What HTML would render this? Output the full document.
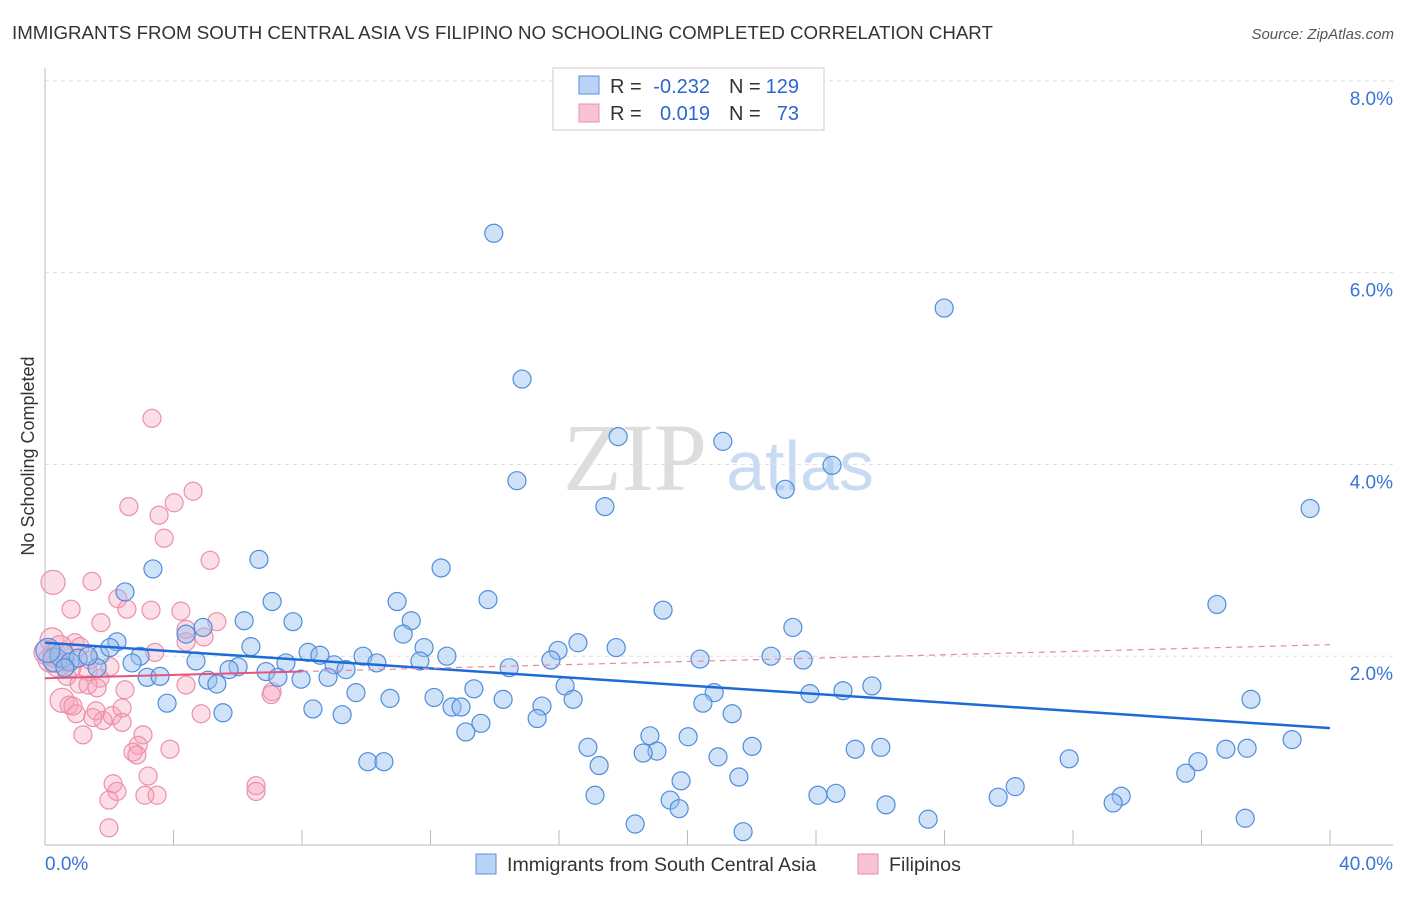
<!DOCTYPE html>
<html><head><meta charset="utf-8"><style>
body{margin:0;background:#fff;font-family:"Liberation Sans",sans-serif;}
svg text{font-family:"Liberation Sans",sans-serif;}
</style></head><body>
<svg id="chart" width="1406" height="892" xmlns="http://www.w3.org/2000/svg">
<text x="12" y="39" font-size="18.7" fill="#333">IMMIGRANTS FROM SOUTH CENTRAL ASIA VS FILIPINO NO SCHOOLING COMPLETED CORRELATION CHART</text>
<text x="1394" y="39" font-size="15" fill="#555" text-anchor="end" font-style="italic">Source: ZipAtlas.com</text>
<text x="34" y="456" font-size="18" fill="#333" text-anchor="middle" transform="rotate(-90 34 456)">No Schooling Completed</text>
<g>
<text x="635" y="490" font-size="96" fill="#ddd" text-anchor="middle" font-family="Liberation Serif" style="font-family:'Liberation Serif',serif">ZIP</text>
<text x="800" y="490" font-size="70" fill="#c9dbf3" text-anchor="middle">atlas</text>
</g>
<g id="grid"></g><g id="axes"></g><g id="pink"></g><g id="blue"></g><g id="trends"></g>
<g>
<rect x="553" y="68" width="271" height="62" fill="#fff" stroke="#ccc"/>
<rect x="579" y="76" width="20" height="18" fill="#b9d3f7" stroke="#5b8fd9"/>
<rect x="579" y="104" width="20" height="18" fill="#f9c3d3" stroke="#e890ac"/>
<text x="610" y="93" font-size="20" fill="#333">R =</text>
<text x="710" y="93" font-size="20" fill="#2a66d4" text-anchor="end">-0.232</text>
<text x="729" y="93" font-size="20" fill="#333">N =</text>
<text x="799" y="93" font-size="20" fill="#2a66d4" text-anchor="end">129</text>
<text x="610" y="120" font-size="20" fill="#333">R =</text>
<text x="710" y="120" font-size="20" fill="#2a66d4" text-anchor="end">0.019</text>
<text x="729" y="120" font-size="20" fill="#333">N =</text>
<text x="799" y="120" font-size="20" fill="#2a66d4" text-anchor="end">73</text>
</g>
<g>
<rect x="476" y="854" width="20" height="20" fill="#b9d3f7" stroke="#5b8fd9"/>
<text x="507" y="871" font-size="19.6" fill="#333">Immigrants from South Central Asia</text>
<rect x="858" y="854" width="20" height="20" fill="#f9c3d3" stroke="#e890ac"/>
<text x="889" y="871" font-size="19.6" fill="#333">Filipinos</text>
</g>
</svg>
<script>
const blueX=[13.97,27.99,14.85,17.84,21.1,24.5,14.69,23.04,17.43,39.38,3.36,6.66,12.33,2.49,7.07,10.96,13.79,19.24,36.48,6.2,7.72,11.4,23.28,4.92,4.39,11.15,2.24,16.59,6.41,11.8,17.78,15.97,8.19,8.56,12.51,9.9,2.96,1.71,22.6,4.7,2.71,20.39,15.75,23.6,10.33,11.67,7.5,9.0,6.01,5.73,1.62,14.45,6.88,9.37,3.18,7.25,7.97,8.81,3.58,5.07,5.35,25.74,16.19,13.35,20.83,9.68,24.84,23.81,37.54,10.74,12.11,14.26,16.44,20.48,3.8,12.67,12.95,8.34,15.47,5.54,9.25,21.39,15.32,13.57,13.1,18.83,20.02,38.82,16.9,22.01,26.02,25.22,37.42,36.76,19.05,18.62,20.95,31.88,10.05,10.55,17.25,35.89,35.51,21.6,19.8,30.2,17.12,24.06,24.62,29.67,33.5,19.46,33.25,26.18,19.74,27.49,37.36,18.37,21.73,0.31,0.53,0.78,0.09,1.03,1.34,0.62,2.02];
const blueY=[6.41,5.63,4.89,4.29,4.24,3.99,3.83,3.74,3.56,3.54,2.91,3.01,2.92,2.67,2.57,2.57,2.59,2.48,2.54,2.37,2.36,2.37,2.3,2.3,2.23,2.23,2.15,2.14,2.1,2.09,2.09,2.06,2.04,2.01,2.0,2.0,2.0,2.01,2.0,1.95,1.93,1.97,1.96,1.96,1.93,1.95,1.93,1.91,1.89,1.86,1.88,1.88,1.84,1.86,1.78,1.78,1.76,1.78,1.79,1.75,1.71,1.69,1.69,1.66,1.62,1.62,1.64,1.61,1.55,1.56,1.57,1.55,1.55,1.51,1.51,1.47,1.47,1.45,1.48,1.41,1.39,1.4,1.35,1.3,1.21,1.17,1.16,1.13,1.05,1.06,1.05,1.03,1.04,1.03,1.01,0.99,0.95,0.93,0.9,0.9,0.86,0.9,0.78,0.74,0.7,0.64,0.55,0.55,0.57,0.53,0.54,0.5,0.47,0.45,0.41,0.3,0.31,0.25,0.17,1.96,2.01,1.94,2.06,1.98,2.0,1.88,2.09];
const pinkX=[3.33,4.61,4.02,2.61,3.55,3.71,5.14,0.25,1.46,2.27,0.81,2.55,3.3,4.23,5.35,1.74,4.39,4.95,0.93,1.09,4.39,0.22,0.03,0.4,0.68,1.34,1.71,1.06,1.34,1.62,4.39,2.49,7.07,7.04,0.53,0.75,0.97,0.87,1.59,1.81,1.49,2.09,2.4,2.4,4.86,1.18,3.05,2.9,2.74,2.86,3.89,2.12,3.21,2.24,3.11,3.49,1.99,6.57,6.57,1.99,0.31,0.47,0.16,0.65,0.84,2.02,1.4,3.42];
const pinkY=[4.48,3.72,3.6,3.56,3.47,3.23,3.0,2.77,2.78,2.6,2.49,2.49,2.48,2.47,2.36,2.35,2.28,2.2,2.14,2.1,2.15,2.17,2.04,1.91,1.79,1.84,1.77,1.71,1.7,1.67,1.7,1.65,1.63,1.6,1.54,1.49,1.4,1.48,1.43,1.33,1.36,1.38,1.46,1.31,1.4,1.18,1.18,1.07,1.0,0.97,1.03,0.67,0.75,0.59,0.55,0.55,0.5,0.65,0.59,0.21,2.01,2.09,1.96,1.94,1.88,1.89,1.96,2.04];
const yTicks=[2,4,6,8];
const yTickLabels=["2.0%","4.0%","6.0%","8.0%"];
const xTickLabels=["0.0%","40.0%"];
const blueTrend=[2.14,1.25];
const pinkTrend=[1.77,2.12];
const pinkSolidEnd=8;
const NS="http://www.w3.org/2000/svg";
const xs=v=>45+v/40*1285, ys=v=>848-v*95.9;
function mk(tag,attrs,parent){const e=document.createElementNS(NS,tag);for(const k in attrs)e.setAttribute(k,attrs[k]);document.getElementById(parent).appendChild(e);return e;}
yTicks.forEach((t,i)=>{
 const l=mk('line',{x1:45,x2:1393,y1:ys(t),y2:ys(t),stroke:'#ddd','stroke-dasharray':'4,4'},'grid');
 
 
 const tx=mk('text',{x:1393,y:ys(t)+24,'font-size':19,fill:'#3b73d6','text-anchor':'end'},'grid');tx.textContent=yTickLabels[i];
 
 
});
let ax=mk('line',{x1:45,x2:45,y1:68,y2:845,stroke:'#bbb'},'axes');


ax=mk('line',{x1:45,x2:1393,y1:845,y2:845,stroke:'#bbb'},'axes');


for(let k=1;k<=10;k++){const t=mk('line',{x1:xs(k*4),x2:xs(k*4),y1:830,y2:845,stroke:'#bbb'},'axes');
 
 }
let xl=mk('text',{x:45,y:870,'font-size':19,fill:'#3b73d6'},'axes');xl.textContent=xTickLabels[0];


xl=mk('text',{x:1393,y:870,'font-size':19,fill:'#3b73d6','text-anchor':'end'},'axes');xl.textContent=xTickLabels[1];


function dots(X,Y,g,fill,stroke,name){X.forEach((x,i)=>{const r=x<0.6?12:9;
 const c=mk('circle',{cx:xs(x),cy:ys(Y[i]),r:r,fill:fill,stroke:stroke,'stroke-width':1.2},g);
 
 });}
dots(pinkX,pinkY,'pink','rgba(246,160,186,0.35)','#ec8fab','filipino-point');
dots(blueX,blueY,'blue','rgba(150,190,240,0.45)','#4f8ddb','south-central-asia-point');
let tl=mk('line',{x1:xs(0),y1:ys(blueTrend[0]),x2:xs(40),y2:ys(blueTrend[1]),stroke:'#1e6ad6','stroke-width':2.5},'trends');


const pAt=v=>pinkTrend[0]+(pinkTrend[1]-pinkTrend[0])*v/40;
tl=mk('line',{x1:xs(0),y1:ys(pinkTrend[0]),x2:xs(pinkSolidEnd),y2:ys(pAt(pinkSolidEnd)),stroke:'#e0567f','stroke-width':2},'trends');


tl=mk('line',{x1:xs(pinkSolidEnd),y1:ys(pAt(pinkSolidEnd)),x2:xs(40),y2:ys(pinkTrend[1]),stroke:'#e58aa6','stroke-width':1.2,'stroke-dasharray':'6,5'},'trends');


</script>
</body></html>
